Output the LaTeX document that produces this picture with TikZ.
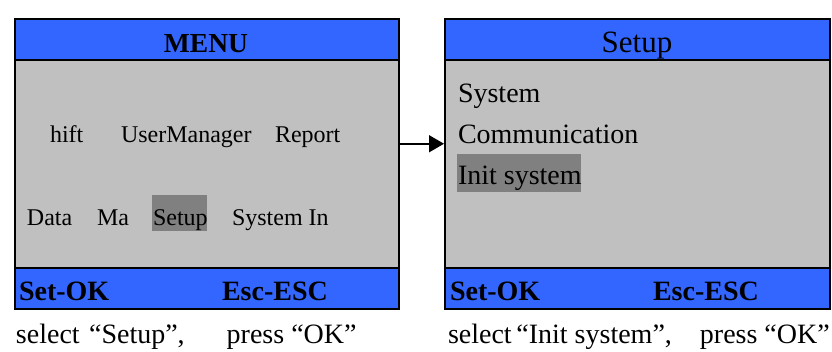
\documentclass[tikz,border=0pt]{standalone}
\usepackage{fontspec}
\setmainfont{Liberation Serif}
\usetikzlibrary{arrows.meta}
\definecolor{hdrblue}{HTML}{3366FF}
\definecolor{bodygray}{HTML}{C0C0C0}
\definecolor{selgray}{HTML}{808080}
\tikzset{
  screen/.style={draw=black, line width=1.5pt, inner sep=0pt, anchor=north west, minimum height=290pt},
  lbl/.style={anchor=base west, inner sep=0pt, outer sep=0pt},
  hdrtxt/.style={anchor=base, inner sep=0pt},
  sel/.style={fill=selgray, draw=none},
  fA/.style={font=\fontsize{24}{26}\selectfont},
  fB/.style={font=\fontsize{28}{30}\selectfont},
  fBold/.style={font=\bfseries\fontsize{28}{30}\selectfont},
}
\begin{document}
\begin{tikzpicture}[x=1pt,y=-1pt]
\useasboundingbox (0,0) rectangle (832,351);
% left screen
\fill[bodygray] (14,60) rectangle (398,268);
\fill[hdrblue] (14,18) rectangle (398,60);
\fill[hdrblue] (14,268) rectangle (398,308);
\draw[line width=1.5pt] (14,60) -- (398,60) (14,268) -- (398,268);
\node[screen, minimum width=384pt] (L) at (14,18) {};
\node[hdrtxt, font=\bfseries\fontsize{27.5}{29}\selectfont] (ltitle) at (206,52) {MENU};
\node[lbl, fA] (l1) at (50,142) {hift};
\node[lbl, fA] (l2) at (121,142) {UserManager};
\node[lbl, fA] (l3) at (275,142) {Report};
\fill[sel] (152,195) rectangle (207,231);
\node[lbl, fA] (l4) at (27,225) {Data};
\node[lbl, fA] (l5) at (97,225) {Ma};
\node[lbl, fA] (l6) at (153,225) {Setup};
\node[lbl, fA] (l7) at (232,225) {System In};
\node[lbl, fBold] (lok) at (19,300) {Set-OK};
\node[lbl, fBold] (lesc) at (222,300) {Esc-ESC};
\node[lbl, fB] (lcap) at (16,343) {select\,\,“Setup”,\hspace{42pt}press “OK”};
% right screen
\fill[bodygray] (444,60) rectangle (829,268);
\fill[hdrblue] (444,18) rectangle (829,60);
\fill[hdrblue] (444,268) rectangle (829,308);
\draw[line width=1.5pt] (444,60) -- (829,60) (444,268) -- (829,268);
\node[screen, minimum width=385pt] (R) at (444,18) {};
\node[hdrtxt, font=\fontsize{31}{33}\selectfont] (rtitle) at (637,52) {Setup};
\node[lbl, fB] (r1) at (458,102) {System};
\node[lbl, fB] (r2) at (458,143) {Communication};
\fill[sel] (457,154) rectangle (581,192);
\node[lbl, fB] (r3) at (458,184) {Init system};
\node[lbl, fBold] (rok) at (450,300) {Set-OK};
\node[lbl, fBold] (resc) at (653,300) {Esc-ESC};
\node[lbl, fB] (rcap) at (448,343) {select\,“Init system”,\hspace{28pt}press “OK”};
% arrow
\draw[line width=1.5pt, -{Triangle[length=15pt,width=17pt]}] ([yshift=20pt]L.east) -- ([yshift=20pt]R.west);
\end{tikzpicture}
\end{document}
